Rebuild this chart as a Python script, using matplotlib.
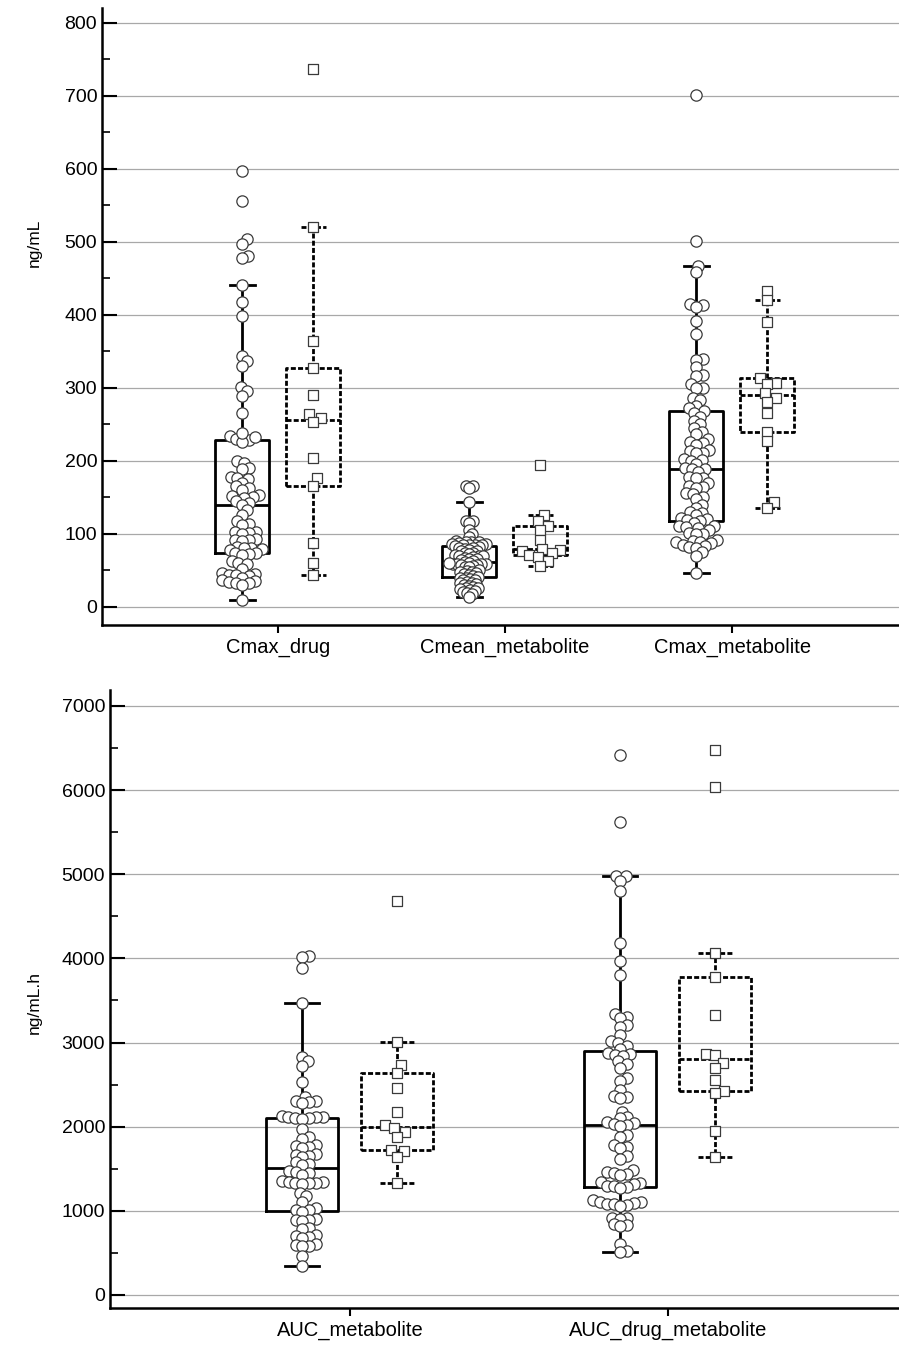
import numpy as np
import matplotlib
matplotlib.use("Agg")
import matplotlib.pyplot as plt

plt.rcParams['font.family'] = ['Liberation Sans', 'DejaVu Sans']

# ---- top panel (ng/mL) ----
top_categories = ['Cmax_drug', 'Cmean_metabolite', 'Cmax_metabolite']

cmax_drug_circles = [597, 555, 503, 497, 481, 477, 441, 417, 398, 344, 337, 330, 301, 295, 288, 265,
                     234, 230, 228, 226, 238, 232, 199, 197, 190, 188, 178, 177, 175, 170, 165, 163,
                     160, 153, 152, 150, 149, 145, 142, 140, 133, 126, 118, 113, 112, 103, 102, 101,
                     100, 93, 92, 91, 90, 82, 81, 80, 79, 78, 74, 73, 72, 71, 62, 60, 58, 52, 46, 45,
                     44, 43, 42, 40, 36, 35, 34, 33, 32, 30, 9]
cmax_drug_squares = [737, 520, 364, 327, 290, 264, 258, 253, 204, 176, 165, 87, 60, 44]

cmean_met_circles = [166, 165, 163, 144, 118, 117, 115, 105, 100, 96,
                     90, 89, 88, 88, 87, 86, 86, 85, 85, 84, 84, 83,
                     82, 81, 80, 79, 78, 77, 76,
                     74, 73, 72, 71, 70, 70, 69, 68, 67, 66, 65,
                     64, 62, 61, 60, 59, 58, 57,
                     60, 59, 58, 57, 56, 55, 54,
                     50, 49, 48, 47, 46, 45, 44,
                     42, 41, 40, 39, 38, 37, 36,
                     34, 33, 32, 31, 30, 29,
                     27, 26, 25, 24, 23, 22,
                     20, 19, 18, 14]
cmean_met_squares = [194, 126, 117, 110, 105, 92, 79, 78, 77, 74, 71, 68, 63, 56]

cmax_met_circles = [701, 501, 467, 458, 415, 413, 411, 392, 373, 339, 338, 328, 317, 316, 305, 300,
                    299, 286, 283, 275, 272, 268, 265, 260, 255, 250, 245, 240, 236, 230, 225, 224,
                    222, 215, 213, 211, 210, 203, 201, 200, 195, 190, 189, 188, 185, 178, 177, 176,
                    170, 165, 164, 163, 156, 155, 150, 147, 140, 135, 130, 129, 125, 121, 120, 119,
                    118, 115, 111, 110, 109, 108, 105, 101, 100, 99, 92, 90, 89, 88, 87, 85, 83, 82,
                    81, 75, 69, 46]
cmax_met_squares = [433, 420, 390, 313, 307, 305, 293, 286, 281, 265, 240, 227, 143, 135]

# ---- bottom panel (ng/mL.h) ----
bottom_categories = ['AUC_metabolite', 'AUC_drug_metabolite']

auc_met_circles = [4029, 4021, 3882, 3467, 2832, 2781, 2726, 2535, 2357, 2310, 2300, 2290, 2280,
                   2130, 2120, 2115, 2110, 2105, 2100, 2095, 1969, 1882, 1850, 1780, 1770, 1760,
                   1750, 1680, 1665, 1655, 1640, 1580, 1560, 1545, 1470, 1460, 1445, 1420, 1350,
                   1345, 1340, 1335, 1330, 1325, 1320, 1209, 1177, 1109, 1030, 1015, 1005, 990,
                   900, 895, 885, 880, 800, 785, 710, 700, 690, 680, 600, 595, 585, 580, 464, 345]
auc_met_squares = [4686, 3011, 2733, 2635, 2456, 2179, 2020, 1981, 1941, 1882, 1723, 1715, 1644, 1335]

auc_dm_circles = [6415, 5627, 4983, 4975, 4919, 4805, 4186, 3975, 3797, 3339, 3309, 3290, 3203,
                  3190, 3085, 3013, 3000, 2960, 2924, 2870, 2860, 2850, 2845, 2780, 2740, 2700,
                  2580, 2540, 2440, 2370, 2356, 2340, 2180, 2120, 2100, 2060, 2040, 2030, 2020,
                  2010, 1900, 1880, 1780, 1760, 1750, 1650, 1620, 1480, 1460, 1450, 1440, 1420,
                  1340, 1330, 1320, 1300, 1290, 1280, 1270, 1130, 1110, 1100, 1090, 1085, 1080,
                  1075, 1060, 920, 915, 905, 840, 830, 820, 610, 525, 513]
auc_dm_squares = [6475, 6034, 4059, 3775, 3331, 2864, 2850, 2758, 2703, 2559, 2419, 2398, 1953, 1636]


def tukey_stats(vals):
    # hinges (Tukey) + 1.5 IQR whiskers
    v = np.sort(np.asarray(vals, float))
    n = len(v)
    half = (n + 1) // 2
    q1 = np.median(v[:half])
    q3 = np.median(v[n - half:])
    iqr = q3 - q1
    lo = v[v >= q1 - 1.5 * iqr].min()
    hi = v[v <= q3 + 1.5 * iqr].max()
    return dict(med=np.median(v), q1=q1, q3=q3, whislo=lo, whishi=hi, fliers=[])


def swarm(ax, vals, xc, diam):
    # simple beeswarm in pixel space, returns x positions in data units
    vals = np.asarray(vals, float)
    pts = ax.transData.transform(np.column_stack([np.full(len(vals), xc), vals]))
    ys = pts[:, 1]
    sx = ax.transData.transform((1, 0))[0] - ax.transData.transform((0, 0))[0]
    xs = np.zeros(len(vals))
    placed = []
    for i in np.argsort(ys):
        y = ys[i]
        near = [(px, py) for px, py in placed if abs(py - y) < diam]
        cands = [0.0]
        for px, py in near:
            dx = np.sqrt(diam ** 2 - (py - y) ** 2)
            cands += [px + dx, px - dx]
        cands.sort(key=abs)
        for c in cands:
            if all((c - px) ** 2 + (y - py) ** 2 >= diam ** 2 - 1e-6 for px, py in near):
                xs[i] = c
                placed.append((c, y))
                break
    return xc + xs / sx


def draw_group(ax, vals, x, width, capw, dashed, marker, pack):
    ls = (0, (1.8, 0.8)) if dashed else '-'
    lp = dict(color='black', lw=2.0, ls=ls)
    ax.bxp([tukey_stats(vals)], positions=[x], widths=width, capwidths=capw,
           showfliers=False, manage_ticks=False,
           boxprops=lp, whiskerprops=lp, capprops=lp, medianprops=lp, zorder=2)
    xs = swarm(ax, vals, x, pack)
    ax.scatter(xs, vals, s=66 if marker == 'o' else 56, marker=marker, facecolor='white',
               edgecolor='#3a3a3a', linewidth=0.9, zorder=3)


def style_axis(ax, major, minor, ymax, label, label_y, label_x):
    ax.set_yticks(np.arange(0, ymax + 1, major))
    ax.set_yticks(np.arange(minor, ymax, major), minor=True)
    ax.yaxis.grid(True, which='major', color='#a8a8a8', lw=0.9)
    ax.set_axisbelow(True)
    for s in ['top', 'right']:
        ax.spines[s].set_visible(False)
    for s in ['left', 'bottom']:
        ax.spines[s].set_linewidth(1.8)
    ax.tick_params(axis='y', which='major', direction='in', length=11, width=1.5, labelsize=14)
    ax.tick_params(axis='y', which='minor', direction='in', length=6, width=1.2)
    ax.tick_params(axis='x', direction='out', length=6, width=1.5, labelsize=14.5, pad=3)
    ax.set_ylabel(label, fontsize=12.5)
    ax.yaxis.set_label_coords(label_x, label_y)


fig = plt.figure(figsize=(8.99, 13.47), dpi=100)

# top panel
ax1 = fig.add_axes([102 / 899, 722 / 1347, 797 / 899, 617 / 1347])
ax1.set_xlim(-0.775, 2.735)
ax1.set_ylim(-25, 820)
top_circles = [cmax_drug_circles, cmean_met_circles, cmax_met_circles]
top_squares = [cmax_drug_squares, cmean_met_squares, cmax_met_squares]
top_pack = [6.9, 4.2, 6.9]
for i in range(len(top_categories)):
    draw_group(ax1, top_circles[i], i - 0.158, 0.238, 0.11, False, 'o', top_pack[i])
    draw_group(ax1, top_squares[i], i + 0.155, 0.238, 0.11, True, 's', 9.0)
ax1.set_xticks(range(len(top_categories)))
ax1.set_xticklabels(top_categories)
style_axis(ax1, 100, 50, 800, 'ng/mL', 0.62, -0.076)

# bottom panel
ax2 = fig.add_axes([110 / 899, 39 / 1347, 789 / 899, 618 / 1347])
ax2.set_xlim(-0.755, 1.726)
ax2.set_ylim(-155, 7190)
bot_circles = [auc_met_circles, auc_dm_circles]
bot_squares = [auc_met_squares, auc_dm_squares]
for i in range(len(bottom_categories)):
    draw_group(ax2, bot_circles[i], i - 0.15, 0.226, 0.107, False, 'o', 7.0)
    draw_group(ax2, bot_squares[i], i + 0.148, 0.226, 0.107, True, 's', 9.0)
ax2.set_xticks(range(len(bottom_categories)))
ax2.set_xticklabels(bottom_categories)
style_axis(ax2, 1000, 500, 7000, 'ng/mL.h', 0.494, -0.087)

fig.savefig('out.png', dpi=100)
